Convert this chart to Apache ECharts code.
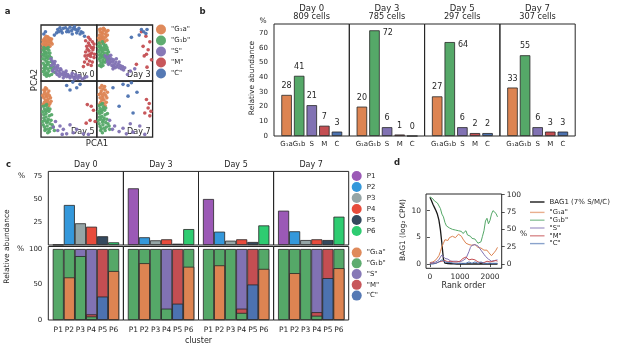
<!DOCTYPE html>
<html><head><meta charset="utf-8">
<script src="https://cdn.jsdelivr.net/npm/echarts@6/dist/echarts.min.js"></script>
<style>html,body{margin:0;padding:0;background:#fff}#c{width:617px;height:350px}</style>
</head><body><div id="c"></div>
<script>
// ---------- shared ----------
const phaseNames = ['"G₁a"', '"G₁b"', '"S"', '"M"', '"C"'];
const phaseTicks = ['G₁a', 'G₁b', 'S', 'M', 'C'];
const phaseColors = ['#dd8452', '#55a868', '#8172b3', '#c44e52', '#4c72b0'];
const days = ['Day 0', 'Day 3', 'Day 5', 'Day 7'];
const cellCounts = ['809 cells', '785 cells', '297 cells', '307 cells'];
const clusterNames = ['P1', 'P2', 'P3', 'P4', 'P5', 'P6'];
const clusterColors = ['#9b59b6', '#3498db', '#95a5a6', '#e74c3c', '#34495e', '#2ecc71'];

// ---------- panel a: PCA scatter (x,y in 0..100 per quadrant) ----------
const pcaDay0G1a = [[4,60],[6,63],[8,66],[5,70],[9,72],[12,75],[7,77],[10,69],[13,64],[15,67],[11,61],[6,74],[14,71],[17,73],[8,58],[12,79],[16,62],[18,69],[3,66],[10,64],[5,57],[14,77],[9,80],[19,75],[20,66],[7,62],[12,70],[4,73],[16,76],[11,58]];
const pcaDay0G1b = [[4,55],[6,52],[8,48],[5,45],[9,42],[12,50],[7,38],[10,35],[4,32],[6,28],[8,25],[11,30],[13,40],[15,45],[14,55],[10,58],[5,60],[3,40],[7,20],[9,15],[12,22],[6,12],[10,9],[14,18],[16,28],[18,35],[17,24],[20,20],[19,12],[15,10],[11,44],[13,33],[8,52],[16,50],[3,48],[5,23],[22,25],[24,16],[12,13],[9,28],[18,42],[21,33],[7,58],[13,60],[4,17]];
const pcaDay0S = [[18,40],[20,36],[22,32],[19,28],[24,30],[26,25],[23,22],[28,20],[30,24],[32,18],[27,15],[34,14],[36,20],[38,12],[40,16],[42,10],[44,14],[46,8],[48,12],[50,9],[52,6],[55,10],[58,7],[60,4],[63,8],[66,5],[70,7],[74,4],[78,6],[82,8],[25,35],[30,28],[35,22],[29,12],[33,9],[40,6],[21,18],[45,18],[56,14],[62,12],[68,10]];
const pcaDay0M = [[85,78],[88,74],[92,70],[80,72],[95,66],[87,64],[90,60],[82,62],[93,56],[86,54],[80,52],[91,50],[84,46],[89,44],[95,42],[82,40],[87,36],[92,34],[78,34],[84,30],[90,28],[76,26],[94,60],[83,57],[88,48],[79,45],[96,48],[85,68]];
const pcaDay0C = [[24,82],[28,86],[32,88],[30,92],[36,90],[40,94],[38,86],[44,95],[48,92],[52,96],[55,90],[58,94],[62,92],[60,97],[66,90],[68,94],[72,88],[70,84],[75,86],[78,80],[46,88],[64,86],[56,84],[50,88],[34,95],[5,84],[8,88]];

const pcaDay3G1a = [[4,70],[6,74],[8,78],[5,82],[9,86],[12,90],[7,93],[10,80],[13,76],[15,84],[11,71],[6,88],[14,92],[17,88],[8,68],[12,94],[16,79],[18,73],[3,77],[10,85],[5,92],[19,82],[20,90],[14,70],[9,75]];
const pcaDay3G1b = [[4,68],[6,64],[8,60],[5,56],[9,52],[12,66],[7,48],[10,44],[4,40],[6,36],[8,32],[11,38],[13,50],[15,56],[14,62],[10,70],[5,28],[3,52],[7,42],[9,58],[12,46],[6,60],[16,44],[18,50],[17,38],[20,46],[19,56],[15,34],[11,28],[13,58],[22,40],[8,26],[16,64],[3,62],[21,52],[12,34],[5,46],[18,60],[10,54],[14,42]];
const pcaDay3S = [[15,45],[18,42],[20,38],[22,44],[24,36],[26,40],[23,32],[28,34],[30,38],[32,30],[27,28],[34,34],[36,26],[38,30],[40,24],[42,28],[44,22],[46,26],[48,20],[25,46],[30,26],[35,40],[29,22],[33,24],[40,34],[21,30],[19,34],[50,24],[60,18],[68,22],[55,12]];
const pcaDay3M = [[80,88],[88,80],[83,62],[92,56],[89,48],[98,38],[71,30],[90,25],[95,70],[85,45]];
const pcaDay3C = [[80,92],[84,88],[88,85],[90,92],[76,82],[62,78]];

const pcaDay5G1a = [[4,58],[6,62],[8,66],[5,70],[9,74],[12,78],[7,82],[10,86],[13,68],[15,74],[11,60],[6,78],[14,82],[17,70],[8,88],[12,64],[16,60],[3,74],[10,72],[18,64],[5,84],[14,56]];
const pcaDay5G1b = [[4,55],[6,50],[8,46],[5,40],[9,36],[12,52],[7,30],[10,26],[4,22],[6,18],[8,14],[11,20],[13,32],[15,38],[14,46],[10,58],[5,34],[3,45],[7,12],[9,42],[12,28],[16,24],[18,30],[17,16],[20,22],[15,10],[11,48],[13,14],[8,56],[19,40],[22,18],[3,28],[24,12],[16,50],[12,8]];
const pcaDay5S = [[22,18],[30,12],[38,5],[52,22],[64,14],[76,6],[46,6],[26,28],[34,20],[58,8],[85,5],[40,14]];
const pcaDay5M = [[83,58],[90,55],[94,48],[97,28],[81,25],[88,30]];
const pcaDay5C = [[46,92],[57,98],[64,88],[70,94],[52,84]];

const pcaDay7G1a = [[5,58],[7,62],[9,66],[6,70],[10,74],[13,78],[8,82],[11,86],[14,90],[16,74],[12,60],[7,78],[15,84],[18,70],[9,92],[13,66],[17,62],[4,76],[11,70],[19,80],[6,88],[15,56]];
const pcaDay7G1b = [[4,56],[6,51],[8,47],[5,42],[9,37],[12,54],[7,32],[10,27],[4,24],[6,19],[8,15],[11,22],[13,34],[15,40],[14,48],[10,60],[5,36],[3,46],[7,12],[9,44],[12,30],[16,26],[18,32],[17,18],[20,24],[15,12],[11,50],[13,16],[8,58],[19,42],[22,20],[3,30],[23,14],[16,52],[10,8]];
const pcaDay7S = [[23,30],[32,20],[40,10],[53,6],[65,9],[77,20],[86,5],[28,14],[47,16],[60,24]];
const pcaDay7M = [[89,67],[94,60],[92,52],[97,46],[86,43],[95,38]];
const pcaDay7C = [[29,88],[47,94],[56,92],[62,97],[56,73],[65,43],[40,55],[72,80]];

// ---------- panel b: relative abundance per phase (%) ----------
const abundDay0 = [28, 41, 21, 7, 3];
const abundDay3 = [20, 72, 6, 1, 0];
const abundDay5 = [27, 64, 6, 2, 2];
const abundDay7 = [33, 55, 6, 3, 3];

// ---------- panel c: cluster abundance (%) ----------
const clustDay0 = [0.3, 43.5, 23.6, 19.9, 9.5, 2.9];
const clustDay3 = [61.6, 8.4, 5.1, 6.2, 1.4, 17.3];
const clustDay5 = [50, 14.5, 4.7, 6.2, 3.3, 21.3];
const clustDay7 = [37.3, 14.9, 5.4, 6.2, 5.4, 30.8];

// ---------- panel c: phase composition of each cluster (%) ----------
const compDay0G1a = [0, 60, 0, 0, 0, 69];
const compDay0G1b = [100, 40, 90, 5, 0, 31];
const compDay0S   = [0, 0, 10, 92, 0, 0];
const compDay0M   = [0, 0, 0, 3, 67, 0];
const compDay0C   = [0, 0, 0, 0, 33, 0];
const compDay3G1a = [0, 80, 0, 0, 0, 75];
const compDay3G1b = [100, 20, 100, 16, 0, 25];
const compDay3S   = [0, 0, 0, 84, 0, 0];
const compDay3M   = [0, 0, 0, 0, 77, 0];
const compDay3C   = [0, 0, 0, 0, 23, 0];
const compDay5G1a = [0, 77, 0, 0, 0, 72];
const compDay5G1b = [100, 23, 100, 10, 0, 28];
const compDay5S   = [0, 0, 0, 84, 0, 0];
const compDay5M   = [0, 0, 0, 6, 50, 0];
const compDay5C   = [0, 0, 0, 0, 50, 0];
const compDay7G1a = [0, 66, 0, 0, 0, 73];
const compDay7G1b = [100, 34, 100, 6, 0, 27];
const compDay7S   = [0, 0, 0, 89, 0, 0];
const compDay7M   = [0, 0, 0, 5, 41, 0];
const compDay7C   = [0, 0, 0, 0, 59, 0];

// ---------- panel d: rank-ordered BAG1 and phase fractions ----------
const ranks = [0,50,100,150,200,250,300,350,400,450,500,550,600,650,700,750,800,850,900,950,1000,1050,1100,1150,1200,1250,1300,1350,1400,1450,1500,1550,1600,1650,1700,1750,1800,1850,1900,1950,2000,2050,2100,2150,2200,2250];
const bag1 = [12.5,11.9,11.2,10.6,10.0,9.3,8.2,6.4,3.8,0.9,0.15,0.05,0.1,0,0.05,0,0.05,0,0,0.05,0,0,0.05,0,0,0.05,0,0,0,0.05,0,0,0,0,0.05,0,0,0,0,0,0.05,0,0,0,0,0];
const fracG1a = [2,3,3,5,6,8,12,18,25,30,35,37,34,38,36,40,42,38,40,43,44,40,36,34,30,31,28,26,27,25,28,27,24,26,23,22,20,18,20,17,15,12,14,17,20,24];
const fracG1b = [97,95,94,91,92,88,86,80,72,68,60,55,57,52,54,50,52,49,51,48,50,47,44,46,48,42,44,40,37,35,36,33,30,28,32,40,48,62,66,58,63,72,77,75,73,68];
const fracS   = [1,1,2,2,3,4,6,10,13,11,8,6,7,5,4,5,4,6,4,5,3,4,5,4,8,13,18,24,27,29,28,30,26,24,20,18,14,11,9,7,5,4,6,5,7,6];
const fracM   = [1,0,1,2,1,2,3,2,4,3,5,4,3,5,4,2,3,4,3,2,4,6,8,9,10,8,6,5,7,8,6,4,3,4,2,3,2,3,4,2,3,5,4,3,5,4];
const fracC   = [0,1,0,1,1,2,3,5,6,4,3,2,2,1,2,3,1,2,1,2,1,0,1,2,1,2,3,2,1,2,3,2,1,2,3,2,1,2,1,0,1,2,1,2,1,1];

// ---------- build ----------
const TXT = '#262626';
const FONT = 'DejaVu Sans';
const pca = [
  [pcaDay0G1a, pcaDay0G1b, pcaDay0S, pcaDay0M, pcaDay0C],
  [pcaDay3G1a, pcaDay3G1b, pcaDay3S, pcaDay3M, pcaDay3C],
  [pcaDay5G1a, pcaDay5G1b, pcaDay5S, pcaDay5M, pcaDay5C],
  [pcaDay7G1a, pcaDay7G1b, pcaDay7S, pcaDay7M, pcaDay7C]
];
const abund = [abundDay0, abundDay3, abundDay5, abundDay7];
const clust = [clustDay0, clustDay3, clustDay5, clustDay7];
const comp = [
  [compDay0G1a, compDay0G1b, compDay0S, compDay0M, compDay0C],
  [compDay3G1a, compDay3G1b, compDay3S, compDay3M, compDay3C],
  [compDay5G1a, compDay5G1b, compDay5S, compDay5M, compDay5C],
  [compDay7G1a, compDay7G1b, compDay7S, compDay7M, compDay7C]
];
const fracs = [fracG1a, fracG1b, fracS, fracM, fracC];

const grids = [], xAxes = [], yAxes = [], series = [], graphics = [];
const border = { show: true, borderColor: TXT, borderWidth: 1, backgroundColor: 'transparent' };
const noAxis = { axisLine: { show: false }, axisTick: { show: false }, splitLine: { show: false } };
const lbl = (extra) => Object.assign({ fontSize: 7, color: TXT, fontFamily: FONT }, extra);
function text(t, x, y, size, opt) {
  graphics.push(Object.assign({ type: 'text', x: x, y: y, silent: true,
    style: { text: t, font: (opt && opt.bold ? 'bold ' : '') + size + 'px "' + FONT + '"', fill: TXT,
      align: (opt && opt.align) || 'center', verticalAlign: 'middle' } },
    opt && opt.rot ? { rotation: Math.PI / 2 } : {}));
}

// panel a grids 0-3
const aPos = [[41, 25], [96.8, 25], [41, 81], [96.8, 81]];
aPos.forEach((p, d) => {
  grids.push(Object.assign({ left: p[0], top: p[1], width: 55.8, height: 56.2 }, border, { borderWidth: 1.3 }));
  xAxes.push({ gridIndex: d, type: 'value', min: 0, max: 100, show: false });
  yAxes.push({ gridIndex: d, type: 'value', min: 0, max: 100, show: false });
  pca[d].forEach((pts, k) => {
    series.push({ type: 'scatter', name: phaseNames[k], xAxisIndex: d, yAxisIndex: d, data: pts,
      symbolSize: 3.6, silent: true, itemStyle: { color: phaseColors[k], opacity: 0.95 } });
  });
});
text('Day 0', 94.5, 75, 8, { align: 'right' });
text('Day 3', 150.5, 75, 8, { align: 'right' });
text('Day 5', 94.5, 131.5, 8, { align: 'right' });
text('Day 7', 150.5, 131.5, 8, { align: 'right' });
text('PCA2', 35, 80, 8.5, { rot: true });
text('PCA1', 97, 143.5, 8.5);

// panel b grids 4-7
const sideLabel = [[], [1], [1], []];
for (let d = 0; d < 4; d++) {
  const gi = 4 + d;
  const left = 274 + d * 75.3;
  grids.push(Object.assign({ left: left, top: 24, width: 75.3, height: 112 }, border));
  xAxes.push(Object.assign({ gridIndex: gi, type: 'value', min: -1.0, max: 4.98,
    axisLabel: lbl({ customValues: [0, 1, 2, 3, 4], formatter: v => phaseTicks[Math.round(v)], margin: 5 }) }, noAxis));
  yAxes.push(Object.assign({ gridIndex: gi, type: 'value', min: 0, max: 76.3,
    axisLabel: d === 0 ? lbl({ customValues: [0, 10, 20, 30, 40, 50, 60, 70], margin: 6 }) : { show: false } }, noAxis));
  series.push({ type: 'bar', name: 'abundance ' + days[d], xAxisIndex: gi, yAxisIndex: gi, barWidth: 10.5, silent: true,
    itemStyle: { borderColor: TXT, borderWidth: 0.8 },
    label: { show: true, position: 'top', distance: 5, fontSize: 8, color: TXT, fontFamily: FONT,
      formatter: p => String(p.value[1]) },
    data: abund[d].map((v, i) => {
      const item = { value: [i, v], itemStyle: { color: phaseColors[i] } };
      if (sideLabel[d].indexOf(i) >= 0) item.label = { position: ['100%', 0], offset: [3, -1], align: 'left', verticalAlign: 'top' };
      return item;
    }) });
  text(days[d], left + 37.6, 8.3, 8.5);
  text(cellCounts[d], left + 37.6, 16.8, 8.2);
}
text('%', 263, 20.7, 7.5);
text('Relative abundance', 252, 78, 7.5, { rot: true });

// panel c top grids 8-11, bottom grids 12-15
for (let d = 0; d < 4; d++) {
  const gi = 8 + d;
  const left = 48.3 + d * 75.1;
  grids.push(Object.assign({ left: left, top: 171.4, width: 75.1, height: 73.6 }, border));
  xAxes.push(Object.assign({ gridIndex: gi, type: 'value', min: -0.9, max: 5.88, axisLabel: { show: false } }, noAxis));
  yAxes.push(Object.assign({ gridIndex: gi, type: 'value', min: 0, max: 80,
    axisLabel: d === 0 ? lbl({ customValues: [25, 50, 75], margin: 6 }) : { show: false } }, noAxis));
  clust[d].forEach((v, p) => {
    series.push({ type: 'bar', name: clusterNames[p], xAxisIndex: gi, yAxisIndex: gi, barWidth: 11.07, barGap: '-100%',
      silent: true, data: [[p, v]], itemStyle: { color: clusterColors[p], borderColor: TXT, borderWidth: 0.8 } });
  });
  text(days[d], left + 37.5, 164.5, 8);
}
// stacked composition: drawn as overlapping cumulative bars (top segment first)
const stackOrder = [0, 4, 1, 3, 2]; // bottom -> top : G1a, C, G1b, M, S
for (let d = 0; d < 4; d++) {
  const gi = 12 + d;
  const left = 48.3 + d * 75.1;
  grids.push(Object.assign({ left: left, top: 246.5, width: 75.1, height: 73.5 }, border));
  xAxes.push(Object.assign({ gridIndex: gi, type: 'value', min: -0.9, max: 5.88,
    axisLabel: lbl({ fontSize: 7.5, customValues: [0, 1, 2, 3, 4, 5], formatter: v => clusterNames[Math.round(v)], margin: 6 }) }, noAxis));
  yAxes.push(Object.assign({ gridIndex: gi, type: 'value', min: 0, max: 103.5,
    axisLabel: d === 0 ? lbl({ customValues: [0, 50, 100], margin: 6 }) : { show: false } }, noAxis));
  for (let s = stackOrder.length - 1; s >= 0; s--) {
    const k = stackOrder[s];
    const below = stackOrder.slice(0, s + 1);
    const data = comp[d][k].map((v, i) => {
      const cum = below.reduce((acc, kk) => acc + comp[d][kk][i], 0);
      return v > 0 ? [i, cum] : [i, '-'];
    });
    series.push({ type: 'bar', name: phaseNames[k], xAxisIndex: gi, yAxisIndex: gi, barWidth: 11.07, barGap: '-100%',
      silent: true, data: data, itemStyle: { color: phaseColors[k], borderColor: TXT, borderWidth: 0.8 } });
  }
}
text('%', 21.5, 176, 7.5);
text('%', 20.5, 249.3, 7.5);
text('Relative abundance', 7, 246.5, 7.5, { rot: true });
text('cluster', 198.5, 340.7, 8);

// panel d grid 16
grids.push(Object.assign({ left: 426, top: 194, width: 75.7, height: 74.3 }, border));
const tick = (vals) => ({ show: true, customValues: vals, length: 3, lineStyle: { color: TXT, width: 0.8 } });
xAxes.push({ gridIndex: 16, type: 'value', min: -130, max: 2390, axisLine: { show: false }, splitLine: { show: false },
  axisTick: tick([0, 1000, 2000]), axisLabel: lbl({ fontSize: 7.5, customValues: [0, 1000, 2000], formatter: v => String(v), margin: 5 }) });
yAxes.push({ gridIndex: 16, type: 'value', min: -0.8, max: 13.1, axisLine: { show: false }, splitLine: { show: false },
  axisTick: tick([0, 5, 10]), axisLabel: lbl({ fontSize: 7.5, customValues: [0, 5, 10], margin: 5 }) });
yAxes.push({ gridIndex: 16, type: 'value', position: 'right', min: -6.2, max: 101, axisLine: { show: false }, splitLine: { show: false },
  axisTick: tick([0, 25, 50, 75, 100]), axisLabel: lbl({ fontSize: 7.5, customValues: [0, 25, 50, 75, 100], margin: 5 }) });
series.push({ type: 'line', name: 'BAG1 (7% S/M/C)', xAxisIndex: 16, yAxisIndex: 16, symbol: 'none', silent: true,
  data: ranks.map((r, i) => [r, bag1[i]]), lineStyle: { color: '#1a1a1a', width: 1.3 }, itemStyle: { color: '#1a1a1a' } });
fracs.forEach((f, k) => {
  series.push({ type: 'line', name: 'd' + phaseNames[k], xAxisIndex: 16, yAxisIndex: 17, symbol: 'none', silent: true,
    data: ranks.map((r, i) => [r, f[i]]), lineStyle: { color: phaseColors[k], width: 1 }, itemStyle: { color: phaseColors[k] } });
});
text('BAG1 (log₂ CPM)', 403, 230, 7.5, { rot: true });
text('Rank order', 463.5, 286, 8);
text('%', 523.5, 234.2, 7.5);

// panel letters
text('a', 7.5, 12, 8.5, { bold: true });
text('b', 202.5, 12, 8.5, { bold: true });
text('c', 8.5, 164.5, 8.5, { bold: true });
text('d', 397, 163, 8.5, { bold: true });

const legText = { fontSize: 7, color: TXT, fontFamily: FONT };
const noBorder = { borderWidth: 0 };
const legends = [
  { left: 156, top: 24.5, data: phaseNames, icon: 'circle', itemWidth: 10, itemHeight: 10, itemGap: 1, textStyle: legText, itemStyle: noBorder },
  { left: 351.7, top: 171, data: clusterNames, icon: 'circle', itemWidth: 10, itemHeight: 10, itemGap: 1, textStyle: legText, itemStyle: noBorder },
  { left: 351.7, top: 247.6, data: phaseNames, icon: 'circle', itemWidth: 10, itemHeight: 10, itemGap: 0.75, textStyle: legText, itemStyle: noBorder },
  { left: 530, top: 198, data: ['BAG1 (7% S/M/C)'], icon: 'rect', itemWidth: 14.5, itemHeight: 1.4, itemGap: 0,
    textStyle: Object.assign({}, legText, { lineHeight: 8 }), itemStyle: noBorder },
  { left: 530, top: 208.5, data: phaseNames.map(n => 'd' + n), icon: 'rect', itemWidth: 14.5, itemHeight: 1.4, itemGap: 0,
    formatter: n => n.slice(1), textStyle: Object.assign({}, legText, { fontSize: 6.8, lineHeight: 7.8 }),
    itemStyle: { borderWidth: 0, opacity: 0.65 } }
].map(l => Object.assign({ orient: 'vertical', selectedMode: false, padding: 0 }, l));

const chart = echarts.init(document.getElementById('c'), null, { renderer: 'canvas' });
chart.setOption({
  animation: false,
  backgroundColor: '#fff',
  textStyle: { fontFamily: FONT },
  grid: grids, xAxis: xAxes, yAxis: yAxes, series: series, legend: legends,
  graphic: { elements: graphics }
});
</script></body></html>
